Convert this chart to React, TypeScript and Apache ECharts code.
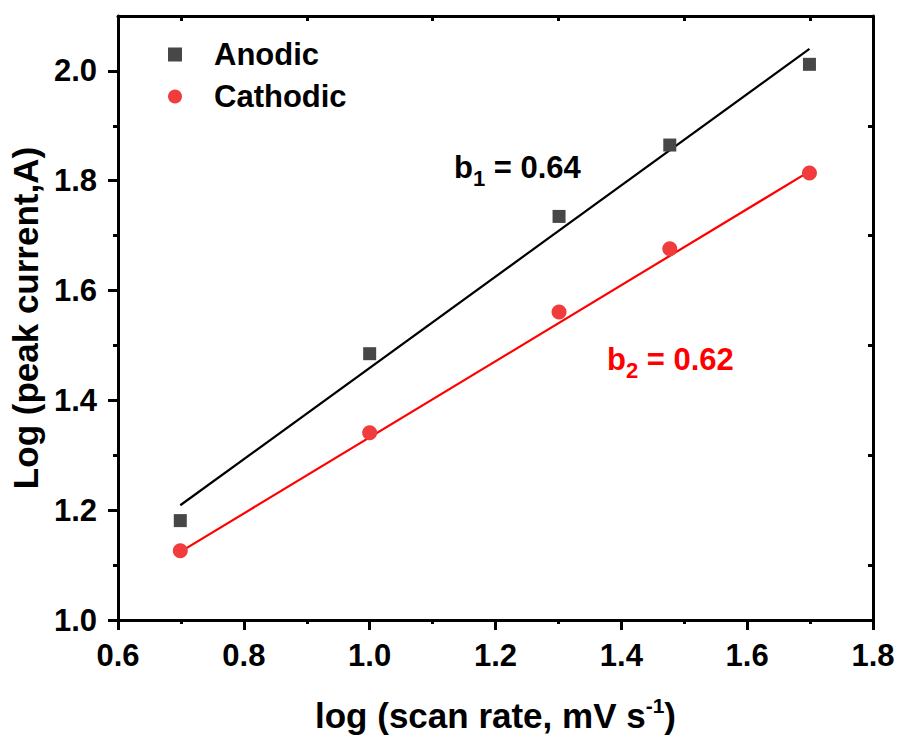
import React, { useEffect, useRef } from "react";
import * as echarts from "echarts";

const scanRateLog = [0.699, 1.0, 1.301, 1.477, 1.699];
const anodic = [1.181, 1.485, 1.735, 1.865, 2.012];
const cathodic = [1.126, 1.341, 1.561, 1.676, 1.814];
const fitX = [0.699, 1.699];
const fitAnodic = [1.209, 2.04];
const fitCathodic = [1.124, 1.817];
const xMirrorTicks = [0.7, 0.9, 1.1, 1.3, 1.5, 1.7];
const yMajorTicks = [1.0, 1.2, 1.4, 1.6, 1.8, 2.0];
const yMinorTicks = [1.1, 1.3, 1.5, 1.7, 1.9];

const FONT = "'Liberation Sans', Arial, sans-serif";

export default function App() {
  const ref = useRef<HTMLDivElement>(null);
  useEffect(() => {
    if (!ref.current) return;
    const chart = echarts.init(ref.current, undefined, { renderer: "svg" });
    const pair = (xs: number[], ys: number[]) => xs.map((x, i) => [x, ys[i]]);
    const axisLineStyle = { color: "#000", width: 3 };
    const labelStyle = {
      fontSize: 31,
      fontWeight: "bold" as const,
      color: "#000",
      fontFamily: FONT,
    };
    const subRich = (color: string) => ({
      m: { fontSize: 31, fontWeight: "bold", fontFamily: FONT, fill: color, lineHeight: 31 },
      s: { fontSize: 22, fontWeight: "bold", fontFamily: FONT, fill: color, lineHeight: 22, padding: [21, 0, 0, 0] },
    });
    chart.setOption({
      animation: false,
      backgroundColor: "#fff",
      grid: { left: 118, right: 25, top: 16, bottom: 112, containLabel: false },
      legend: {
        data: ["Anodic", "Cathodic"],
        orient: "vertical",
        left: 163,
        top: 34,
        itemWidth: 14,
        itemHeight: 14,
        itemGap: 11,
        textStyle: { ...labelStyle, lineHeight: 30, padding: [0, 0, 0, 27] },
      },
      xAxis: [
        {
          type: "value",
          position: "bottom",
          min: 0.6,
          max: 1.8,
          interval: 0.2,
          axisLine: { show: true, onZero: false, lineStyle: axisLineStyle },
          axisTick: { show: true, length: 10, lineStyle: axisLineStyle },
          minorTick: { show: true, splitNumber: 2, length: 4, lineStyle: axisLineStyle },
          splitLine: { show: false },
          axisLabel: {
            ...labelStyle,
            margin: 20,
            formatter: (v: number) => v.toFixed(1),
          },
          name: "{a|log (scan rate, mV s}{s|-1}{a|)}",
          nameLocation: "middle",
          nameGap: 75,
          nameTextStyle: {
            rich: {
              a: { fontSize: 35, fontWeight: "bold", fontFamily: FONT, color: "#000", lineHeight: 38, verticalAlign: "bottom" },
              s: { fontSize: 21, fontWeight: "bold", fontFamily: FONT, color: "#000", lineHeight: 21, verticalAlign: "top" },
            },
          },
        },
        {
          type: "value",
          position: "top",
          min: 0.6,
          max: 1.8,
          axisLine: { show: true, onZero: false, lineStyle: axisLineStyle },
          axisTick: { show: true, inside: true, length: 5, customValues: xMirrorTicks, lineStyle: axisLineStyle },
          axisLabel: { show: false },
          splitLine: { show: false },
        },
      ],
      yAxis: [
        {
          type: "value",
          position: "left",
          min: 1.0,
          max: 2.1,
          axisLine: { show: true, onZero: false, lineStyle: axisLineStyle },
          axisTick: { show: true, length: 10, customValues: yMajorTicks, lineStyle: axisLineStyle },
          splitLine: { show: false },
          axisLabel: {
            ...labelStyle,
            margin: 21,
            customValues: yMajorTicks,
            formatter: (v: number) => v.toFixed(1),
          },
          name: "Log (peak current,A)",
          nameLocation: "middle",
          nameGap: 70,
          nameTextStyle: { fontSize: 35, fontWeight: "bold", fontFamily: FONT, color: "#000" },
        },
        {
          type: "value",
          position: "right",
          min: 1.0,
          max: 2.1,
          axisLine: { show: true, onZero: false, lineStyle: axisLineStyle },
          axisTick: { show: true, inside: true, length: 5, customValues: yMinorTicks, lineStyle: axisLineStyle },
          axisLabel: { show: false },
          splitLine: { show: false },
        },
        {
          type: "value",
          position: "left",
          min: 1.0,
          max: 2.1,
          axisLine: { show: false },
          axisTick: { show: true, length: 5, customValues: yMinorTicks, lineStyle: axisLineStyle },
          axisLabel: { show: false },
          splitLine: { show: false },
        },
      ],
      series: [
        {
          name: "Anodic fit",
          type: "line",
          data: pair(fitX, fitAnodic),
          showSymbol: false,
          symbol: "none",
          lineStyle: { color: "#000", width: 2.2 },
          z: 1,
        },
        {
          name: "Cathodic fit",
          type: "line",
          data: pair(fitX, fitCathodic),
          showSymbol: false,
          symbol: "none",
          lineStyle: { color: "#ff0000", width: 2.2 },
          z: 1,
        },
        {
          name: "Anodic",
          type: "scatter",
          data: pair(scanRateLog, anodic),
          symbol: "rect",
          symbolSize: 13,
          itemStyle: { color: "#474747", opacity: 1 },
          z: 3,
        },
        {
          name: "Cathodic",
          type: "scatter",
          data: pair(scanRateLog, cathodic),
          symbol: "circle",
          symbolSize: 15,
          itemStyle: { color: "#f03c3c", opacity: 1 },
          z: 3,
        },
      ],
      graphic: [
        {
          type: "text",
          x: 454,
          y: 152,
          style: { text: "{m|b}{s|1}{m| = 0.64}", rich: subRich("#000") },
        },
        {
          type: "text",
          x: 607,
          y: 344,
          style: { text: "{m|b}{s|2}{m| = 0.62}", rich: subRich("#ff0000") },
        },
      ],
    });
    return () => chart.dispose();
  }, []);
  return (
    <div
      ref={ref}
      style={{ position: "absolute", left: 0, top: 0, width: 898, height: 738 }}
    />
  );
}
